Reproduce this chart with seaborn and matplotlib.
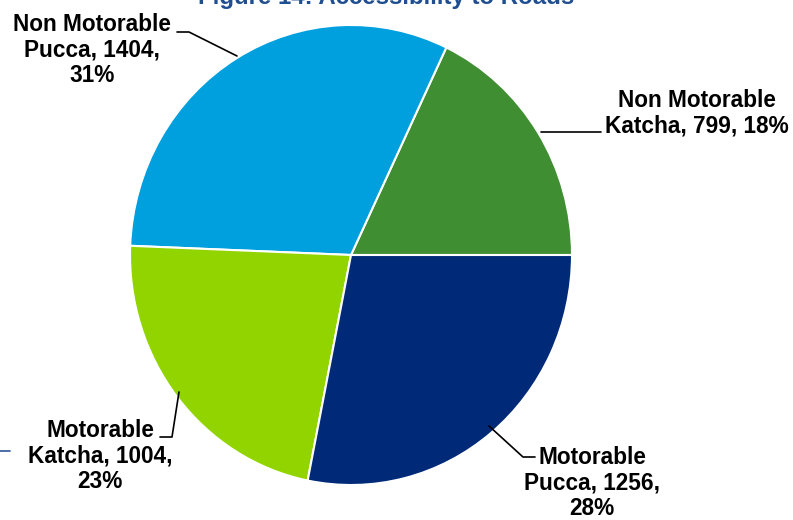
import matplotlib
matplotlib.use("Agg")
import matplotlib.pyplot as plt
import seaborn as sns
from matplotlib.lines import Line2D

# ---- data ----
motor_type = ["Non Motorable", "Non Motorable", "Motorable", "Motorable"]
surface = ["Katcha", "Pucca", "Katcha", "Pucca"]
counts = [799, 1404, 1004, 1256]
percent_labels = [18, 31, 23, 28]
colors = ["#3F8E31", "#009FDE", "#92D400", "#002A78"]
title = "Figure 14: Accessibility to Roads"

sns.set_theme(style="white")
plt.rcParams['font.family'] = ['Liberation Sans', 'DejaVu Sans']

W, H = 793, 520
fig = plt.figure(figsize=(W / 100, H / 100), dpi=100)
ax = fig.add_axes([0, 0, 1, 1])

rx, ry = 221, 230
k = rx / ry  # vertical stretch of the pie


def P(px, py):
    return px, (H - py) * k


cx, cy = P(351, 255)
ax.pie(counts, colors=colors, startangle=0, counterclock=True,
       center=(cx, cy), radius=rx,
       wedgeprops=dict(edgecolor="white", linewidth=1.5))
ax.set_xlim(0, W)
ax.set_ylim(0, H * k)
ax.set_aspect("auto")
ax.axis("off")

fs = 16.3
tkw = dict(fontsize=fs, fontweight="bold", color="black", ha="center",
           va="center", linespacing=1.15)


def lbl(i, sep):
    return f"{motor_type[i]}\n{surface[i]}, {counts[i]},{sep}{percent_labels[i]}%"


# label positions (pixel coords from top-left)
layout = [
    (697, 113, " ", [(541, 132), (601, 132)]),
    (92, 50, "\n", [(237, 56), (189, 32), (177, 32)]),
    (100, 456, "\n", [(179, 392), (172, 437), (160, 437)]),
    (592, 483, "\n", [(489, 426), (523, 457), (535, 457)]),
]
for i, (x, y, sep, pts) in enumerate(layout):
    ax.text(*P(x, y), lbl(i, sep), **tkw)
    xy = [P(*p) for p in pts]
    ax.plot([p[0] for p in xy], [p[1] for p in xy], color="black", lw=1.2)

fig.text(386 / W, 1 - 4 / H, title, ha="center", va="baseline",
         fontsize=17.3, fontweight="bold", color="#1F4E91")
fig.add_artist(Line2D([0, 10 / W], [1 - 451 / H, 1 - 451 / H],
                      color="#2F5597", lw=1.2, transform=fig.transFigure))

fig.savefig("out.png", dpi=100)
